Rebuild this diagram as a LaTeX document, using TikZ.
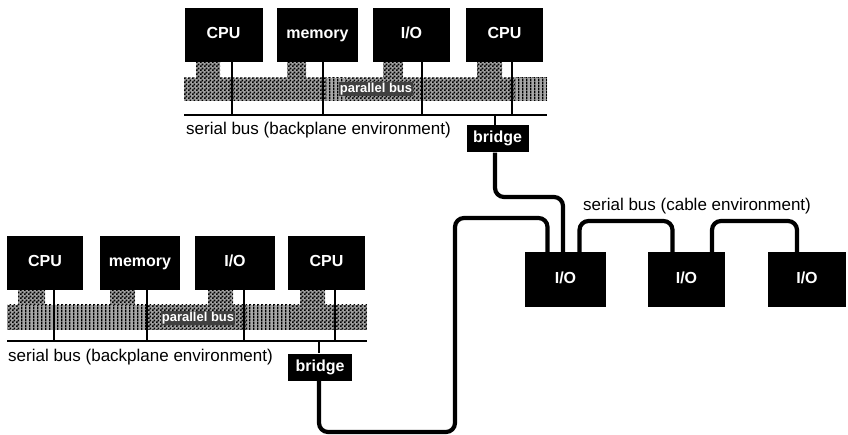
\documentclass[tikz,border=0pt]{standalone}
\usepackage{fontspec}
\setmainfont{Liberation Sans}
\usetikzlibrary{patterns,positioning,calc}
\pgfdeclarepatternformonly{finecheck}{\pgfpointorigin}{\pgfqpoint{4pt}{4pt}}%
  {\pgfqpoint{4pt}{4pt}}{%
  \pgfpathrectangle{\pgfpointorigin}{\pgfqpoint{2pt}{2pt}}%
  \pgfpathrectangle{\pgfqpoint{2pt}{2pt}}{\pgfqpoint{2pt}{2pt}}%
  \pgfusepath{fill}}
\pgfdeclarepatternformonly{fineribs}{\pgfpointorigin}{\pgfqpoint{3.5pt}{3pt}}%
  {\pgfqpoint{3.5pt}{3pt}}{%
  \pgfpathrectangle{\pgfpointorigin}{\pgfqpoint{1.6pt}{3pt}}%
  \pgfusepath{fill}}
\tikzset{
  unit/.style      = {fill=black, text=white, inner sep=0pt,
                      font=\fontsize{16}{18}\selectfont\bfseries,
                      text height=11.5pt, text depth=3.5pt,
                      minimum height=54pt, minimum width=78pt},
  bridgebox/.style = {unit, minimum height=27pt, minimum width=62pt},
  iobox/.style     = {unit, minimum height=55pt, minimum width=80pt},
  busband/.style   = {preaction={fill=gray!75}, pattern=finecheck,
                      pattern color=black},
  busrib/.style    = {preaction={fill=gray!70}, pattern=fineribs,
                      pattern color=black},
  tap/.style       = {draw, line width=1.6pt},
  cable/.style     = {draw, line width=4.2pt, rounded corners=9pt},
  buslabel/.style  = {font=\fontsize{17}{19}\selectfont, inner sep=0pt, anchor=west},
  parlabel/.style  = {fill=black!75, text=white, inner sep=1pt,
                      font=\fontsize{13}{14}\selectfont\bfseries},
}

\begin{document}
\begin{tikzpicture}[x=1pt,y=-1pt]
\useasboundingbox (0,0) rectangle (848,435);

% upper backplane
\fill[busband] (184,78) rectangle (547,101);
\fill[busrib] (515,78) rectangle (547,101);
\fill[busrib] (326,78) rectangle (345,101);
\foreach \xa/\xb in {196/220, 287/306, 383/403, 477/502}
  \fill[busband] (\xa,60) rectangle (\xb,78);
\node[parlabel] (parA) at (376,89) {parallel bus};

\node[unit] (cpuA1) at (223.5,35) {CPU};
\node[unit,minimum width=81pt] (memA) at (317.5,35) {memory};
\node[unit,minimum width=77pt] (ioA) at (411.5,35) {I/O};
\node[unit,minimum width=77pt] (cpuA2) at (504.5,35) {CPU};

\coordinate (sbA-w) at (184,115);
\coordinate (sbA-e) at (547,115);
\draw[tap] (sbA-w) -- (sbA-e);
\foreach \n/\dx in {cpuA1/8.5, memA/5.5, ioA/10.5, cpuA2/7.5}
  \draw[tap] ([xshift=\dx]\n.south) -- ([xshift=\dx]\n.south |- sbA-w);
\node[buslabel] (sbA-lbl) at (186,130) {serial bus (backplane environment)};

\node[bridgebox] (brA) at (497.5,139) {bridge};
\draw[tap] ([xshift=-2.5]brA.north |- sbA-w) -- ([xshift=-2.5]brA.north);

% lower backplane
\fill[busband] (7,305) rectangle (367,330);
\fill[busrib] (20,305) rectangle (148,330);
\fill[busrib] (248,305) rectangle (290,330);
\foreach \xa/\xb in {18/45, 110/135, 208/233, 300/325}
  \fill[busband] (\xa,288) rectangle (\xb,305);
\node[parlabel] (parB) at (198,318) {parallel bus};

\node[unit,minimum width=76pt] (cpuB1) at (45,263) {CPU};
\node[unit,minimum width=80pt] (memB) at (140,263) {memory};
\node[unit,minimum width=80pt] (ioB) at (235,263) {I/O};
\node[unit,minimum width=77pt] (cpuB2) at (326.5,263) {CPU};

\coordinate (sbB-w) at (7,341);
\coordinate (sbB-e) at (367,341);
\draw[tap] (sbB-w) -- (sbB-e);
\foreach \n/\dx in {cpuB1/9, memB/7, ioB/9, cpuB2/8.5}
  \draw[tap] ([xshift=\dx]\n.south) -- ([xshift=\dx]\n.south |- sbB-w);
\node[buslabel] (sbB-lbl) at (8,357) {serial bus (backplane environment)};

\node[bridgebox,minimum width=64pt] (brB) at (320,367) {bridge};
\draw[tap] ([xshift=-1]brB.north |- sbB-w) -- ([xshift=-1]brB.north);

% cable environment
\node[iobox,minimum width=81pt] (ioC1) at (565.5,279.5) {I/O};
\node[iobox,minimum width=77pt] (ioC2) at (686.5,279.5) {I/O};
\node[iobox,minimum width=78pt] (ioC3) at (807,279.5) {I/O};
\node[buslabel] (sbC-lbl) at (583,206) {serial bus (cable environment)};

\draw[cable] ([xshift=-2.5]brA.south) |- ([xshift=-2.5]ioC1.north |- 0,197)
  -- ([xshift=-2.5]ioC1.north);
\draw[cable] ([xshift=-1]brB.south) |- (455,432) |- ([xshift=-18]ioC1.north |- 0,218)
  -- ([xshift=-18]ioC1.north);
\draw[cable] ([xshift=14]ioC1.north) |- ([xshift=-14]ioC2.north |- 0,221)
  -- ([xshift=-14]ioC2.north);
\draw[cable] ([xshift=25.5]ioC2.north) |- ([xshift=-10]ioC3.north |- 0,221)
  -- ([xshift=-10]ioC3.north);
\end{tikzpicture}
\end{document}
